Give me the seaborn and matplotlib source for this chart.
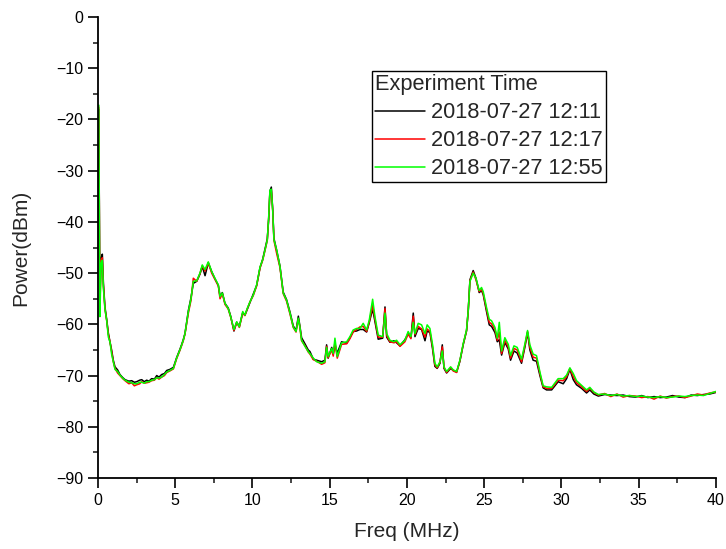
import matplotlib
matplotlib.use("Agg")
import matplotlib.pyplot as plt
from matplotlib.ticker import MultipleLocator
import seaborn as sns
import pandas as pd

# frequency points (MHz)
freq = [0.05, 0.12, 0.2, 0.28, 0.35, 0.45, 0.56, 0.67, 0.78, 0.88, 0.99, 1.1, 1.27, 1.42, 1.6, 1.75,
        2.0, 2.18, 2.35, 2.5, 2.7, 2.83, 3.0, 3.15, 3.3, 3.47, 3.65, 3.8, 3.95, 4.12, 4.3, 4.45,
        4.65, 4.88, 5.09, 5.3, 5.42, 5.52, 5.63, 5.75, 5.85, 6.02, 6.17, 6.39, 6.6, 6.75, 6.93,
        7.14, 7.36, 7.57, 7.79, 7.9, 8.05, 8.22, 8.43, 8.59, 8.8, 8.98, 9.15, 9.37, 9.51, 9.66,
        9.84, 10.05, 10.27, 10.49, 10.66, 10.81, 10.96, 11.05, 11.13, 11.22, 11.31, 11.39, 11.57,
        11.78, 11.99, 12.21, 12.43, 12.64, 12.82, 12.97, 13.07, 13.18, 13.4, 13.61, 13.72, 13.94,
        14.16, 14.48, 14.69, 14.8, 14.9, 15.13, 15.23, 15.34, 15.49, 15.77, 16.1, 16.31, 16.52,
        16.74, 16.96, 17.17, 17.39, 17.56, 17.78, 17.93, 18.14, 18.43, 18.58, 18.69, 18.9, 19.16,
        19.33, 19.55, 19.87, 20.08, 20.26, 20.41, 20.52, 20.73, 20.95, 21.17, 21.31, 21.49, 21.66,
        21.81, 21.96, 22.14, 22.29, 22.4, 22.57, 22.83, 23.0, 23.22, 23.43, 23.65, 23.86, 23.97,
        24.08, 24.29, 24.47, 24.68, 24.83, 24.94, 25.16, 25.33, 25.48, 25.7, 25.85, 25.98, 26.13,
        26.34, 26.56, 26.71, 26.93, 27.14, 27.42, 27.64, 27.81, 27.96, 28.17, 28.39, 28.61, 28.82,
        29.04, 29.37, 29.79, 30.12, 30.34, 30.55, 30.77, 30.98, 31.31, 31.63, 31.84, 32.1, 32.39,
        32.8, 33.2, 33.6, 34.0, 34.4, 34.8, 35.2, 35.6, 36.0, 36.4, 36.8, 37.2, 37.6, 38.0, 38.4,
        38.8, 39.2, 39.6, 40.0]

# power (dBm), 2018-07-27 12:11
p_1211 = [-18.0, -55.0, -47.0, -46.3, -52.0, -56.6, -59.0, -61.7, -63.5, -65.0, -67.0, -68.3, -68.9, -69.8, -70.4, -70.8,
          -71.1, -71.0, -71.3, -71.2, -70.9, -70.8, -71.2, -70.9, -71.1, -70.6, -70.7, -70.0, -70.3, -69.8, -69.6, -69.0,
          -68.8, -68.4, -66.5, -64.9, -63.9, -63.0, -61.8, -59.4, -57.3, -54.8, -52.0, -51.6, -50.2, -48.7, -50.5,
          -48.0, -49.7, -51.1, -52.4, -54.5, -53.8, -55.9, -56.8, -58.4, -61.3, -59.6, -60.4, -57.7, -58.2, -57.1,
          -55.7, -54.1, -52.4, -48.9, -47.3, -45.3, -43.3, -39.5, -34.0, -33.2, -37.5, -43.2, -45.6,
          -48.6, -53.7, -55.2, -57.6, -60.3, -61.2, -58.4, -60.3, -62.6, -63.8, -65.0, -65.3, -66.8,
          -67.0, -67.3, -67.0, -64.0, -66.6, -64.5, -65.8, -64.0, -65.6, -63.4, -63.7, -62.6, -61.4,
          -61.3, -61.0, -61.0, -61.5, -59.7, -57.0, -59.5, -62.9, -62.7, -56.6, -62.5, -63.5, -63.2,
          -63.6, -64.2, -63.0, -61.8, -62.6, -57.8, -62.4, -60.8, -61.0, -63.2, -61.3, -61.6, -64.8,
          -68.2, -68.6, -67.6, -64.0, -68.6, -69.5, -68.6, -69.0, -69.3, -67.2, -63.9, -61.3, -57.4,
          -51.3, -49.5, -51.0, -53.8, -53.4, -54.2, -57.6, -60.1, -60.4, -61.6, -63.4, -63.0, -66.0,
          -63.5, -64.8, -67.0, -65.2, -65.6, -67.6, -64.4, -61.6, -65.0, -67.0, -67.2, -70.0, -72.4,
          -72.8, -72.8, -71.2, -71.6, -70.6, -68.8, -70.8, -71.8, -72.5, -73.4, -72.8, -73.6, -74.0,
          -73.7, -73.8, -73.9, -73.8, -74.1, -74.2, -73.9, -74.3, -74.1, -74.3, -74.2, -73.9, -74.2, -74.3, -73.8,
          -73.9, -73.7, -73.6, -73.3]

# power (dBm), 2018-07-27 12:17
p_1217 = [-17.6, -57.0, -47.5, -47.0, -52.5, -57.0, -59.2, -62.0, -63.5, -65.3, -67.3, -68.6, -69.5, -70.0, -70.6, -71.0,
          -71.6, -71.4, -72.0, -71.8, -71.6, -71.2, -71.5, -71.4, -71.3, -71.0, -70.9, -70.4, -70.7, -70.3, -70.0, -69.4,
          -69.1, -68.7, -66.7, -65.1, -64.1, -63.2, -61.9, -59.6, -57.8, -55.3, -51.0, -51.6, -50.1, -48.6, -49.6,
          -48.0, -50.0, -51.2, -52.5, -55.0, -54.0, -56.1, -57.0, -58.6, -61.2, -59.6, -60.6, -57.8, -58.3, -57.0,
          -55.6, -54.4, -52.5, -49.0, -47.5, -45.6, -43.6, -39.2, -34.2, -33.7, -37.8, -43.6, -46.2,
          -48.9, -54.0, -55.5, -58.0, -60.6, -61.5, -58.9, -60.6, -63.2, -64.2, -65.4, -65.8, -66.9,
          -67.2, -67.8, -67.5, -64.3, -66.5, -65.0, -66.2, -63.5, -66.6, -63.9, -63.8, -62.8, -61.5,
          -61.0, -60.5, -60.4, -61.4, -59.5, -56.3, -59.0, -62.5, -62.5, -56.9, -62.2, -63.4, -63.6,
          -63.4, -64.3, -63.4, -61.9, -62.8, -58.4, -62.0, -60.4, -60.9, -62.5, -60.9, -61.4, -64.4,
          -67.9, -68.5, -67.4, -64.4, -68.4, -69.4, -68.4, -69.1, -69.4, -67.1, -63.8, -61.2, -57.3,
          -51.5, -49.8, -51.3, -53.6, -53.2, -54.0, -57.2, -59.6, -59.9, -61.0, -63.1, -61.5, -65.7,
          -63.1, -64.4, -66.6, -64.7, -65.0, -67.3, -64.1, -61.4, -64.5, -66.4, -66.6, -69.6, -72.2,
          -72.5, -72.5, -70.9, -71.0, -70.2, -68.6, -70.2, -71.4, -72.2, -73.1, -72.5, -73.3, -73.8,
          -73.5, -74.1, -73.6, -74.2, -73.9, -74.0, -74.3, -74.1, -74.6, -74.0, -74.4, -74.1, -74.0, -74.3, -74.0,
          -73.6, -73.8, -73.4, -73.2]

# power (dBm), 2018-07-27 12:55
p_1255 = [-17.2, -58.5, -48.0, -47.5, -53.0, -57.0, -59.2, -62.5, -63.5, -65.8, -67.3, -68.8, -69.2, -69.9, -70.5, -70.9,
          -71.3, -71.4, -71.6, -71.6, -71.3, -71.3, -71.5, -71.2, -71.2, -70.9, -70.8, -70.4, -70.5, -70.3, -69.8, -69.3,
          -69.0, -68.6, -66.6, -65.0, -64.0, -63.1, -61.8, -59.5, -57.5, -55.0, -51.6, -51.5, -50.0, -48.4, -49.3,
          -47.8, -49.7, -51.0, -52.3, -54.6, -53.9, -55.9, -56.9, -58.5, -61.0, -59.5, -60.5, -57.5, -58.2, -56.9,
          -55.6, -54.3, -52.3, -48.8, -47.4, -45.5, -43.5, -39.0, -33.8, -33.6, -37.7, -43.5, -45.5,
          -48.7, -53.9, -55.3, -57.8, -60.5, -61.4, -58.8, -60.5, -63.1, -64.3, -65.3, -65.7, -66.6,
          -67.3, -67.6, -67.3, -64.5, -66.3, -64.7, -65.7, -62.7, -66.3, -63.6, -63.4, -62.4, -61.1,
          -60.8, -60.8, -59.8, -61.1, -59.2, -55.1, -58.5, -62.1, -62.4, -57.8, -61.8, -63.1, -63.4,
          -63.1, -64.0, -63.1, -61.4, -62.4, -59.6, -61.8, -59.8, -60.1, -61.8, -60.1, -60.8, -64.0,
          -67.6, -68.3, -67.3, -65.2, -68.3, -69.2, -68.3, -68.9, -69.2, -67.0, -63.7, -61.1, -57.2,
          -51.6, -50.0, -51.0, -53.4, -52.8, -53.6, -56.8, -59.0, -59.3, -60.6, -62.7, -59.6, -65.2,
          -62.6, -63.9, -66.1, -64.2, -64.5, -66.8, -63.8, -61.2, -64.0, -65.8, -66.1, -69.3, -72.0,
          -72.2, -72.3, -70.6, -70.6, -69.9, -68.5, -69.6, -71.0, -71.9, -72.8, -72.3, -73.2, -73.7,
          -73.6, -73.9, -73.7, -74.0, -73.9, -74.1, -74.0, -74.2, -74.3, -74.1, -74.3, -74.2, -74.0, -74.1, -73.9,
          -73.8, -73.9, -73.5, -73.1]

times = ["2018-07-27 12:11", "2018-07-27 12:17", "2018-07-27 12:55"]
colors = {"2018-07-27 12:11": "#000000", "2018-07-27 12:17": "#ff0000", "2018-07-27 12:55": "#00ff00"}

df = pd.concat([
    pd.DataFrame({"Freq": freq, "Power": p, "Experiment Time": t})
    for t, p in zip(times, [p_1211, p_1217, p_1255])
])

sns.set_style("ticks")
plt.rcParams["font.family"] = ["Liberation Sans", "DejaVu Sans"]

fig, ax = plt.subplots(figsize=(7.26, 5.49), dpi=100)
fig.subplots_adjust(left=0.135, right=0.986, bottom=0.1293, top=0.969)

sns.lineplot(data=df, x="Freq", y="Power", hue="Experiment Time", hue_order=times,
             palette=colors, sort=False, estimator=None, linewidth=1.1, ax=ax)

ax.set_xlim(0, 40)
ax.set_ylim(-90, 0)
ax.xaxis.set_major_locator(MultipleLocator(5))
ax.xaxis.set_minor_locator(MultipleLocator(2.5))
ax.yaxis.set_major_locator(MultipleLocator(10))
ax.yaxis.set_minor_locator(MultipleLocator(5))
ax.tick_params(which="major", direction="out", length=7, width=1.2, labelsize=11.5, colors="black")
ax.tick_params(which="minor", direction="out", length=3.6, width=1.2)
sns.despine(ax=ax)
for s in ["left", "bottom"]:
    ax.spines[s].set_linewidth(1.3)
    ax.spines[s].set_color("black")

ax.set_xlabel("Freq (MHz)", fontsize=15)
ax.set_ylabel("Power(dBm)", fontsize=15)
ax.xaxis.set_label_coords(0.5, -0.095)
ax.yaxis.set_label_coords(-0.11, 0.5)

leg = ax.legend(title="Experiment Time", loc="upper left", bbox_to_anchor=(0.443, 0.883),
                borderaxespad=0, fontsize=15.7, title_fontsize=15.7, frameon=True, fancybox=False,
                framealpha=1, edgecolor="black", borderpad=0.15, handlelength=2.3,
                handletextpad=0.25, labelspacing=0.32, alignment="left")
leg.get_frame().set_linewidth(1.0)

plt.savefig("out.png", dpi=100)
